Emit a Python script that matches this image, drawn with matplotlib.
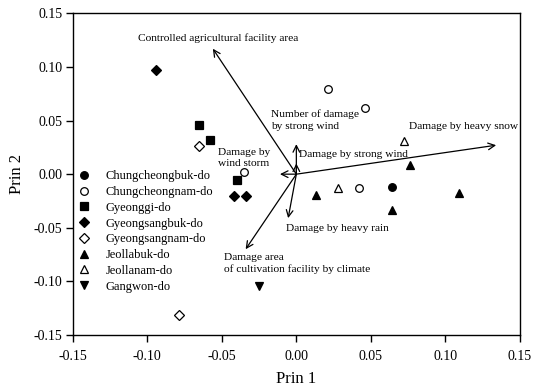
import numpy as np
from matplotlib import pyplot as plt

plt.rcParams['font.family'] = ['Liberation Serif', 'DejaVu Serif']

# province scores (Prin 1, Prin 2)
provinces = ['Chungcheongbuk-do', 'Chungcheongnam-do', 'Gyeonggi-do', 'Gyeongsangbuk-do',
             'Gyeongsangnam-do', 'Jeollabuk-do', 'Jeollanam-do', 'Gangwon-do']
prin1 = [
    [0.064],
    [-0.035, 0.021, 0.046, 0.042],
    [-0.065, -0.058, -0.040],
    [-0.094, -0.042, -0.034],
    [-0.065, -0.079],
    [0.076, 0.013, 0.064, 0.109],
    [0.072, 0.028],
    [-0.025],
]
prin2 = [
    [-0.012],
    [0.002, 0.079, 0.062, -0.013],
    [0.046, 0.032, -0.005],
    [0.097, -0.020, -0.020],
    [0.026, -0.131],
    [0.009, -0.019, -0.033, -0.018],
    [0.031, -0.013],
    [-0.104],
]
markers = ['o', 'o', 's', 'D', 'D', '^', '^', 'v']
filled = [True, False, True, True, False, True, False, True]

# variable loadings (arrow tips) and their labels
var_labels = ['Controlled agricultural facility area', 'Number of damage\nby strong wind',
              'Damage by strong wind', 'Damage by heavy snow', 'Damage by\nwind storm',
              'Damage by heavy rain', 'Damage area\nof cultivation facility by climate']
var_x = [-0.056, 0.0, 0.0, 0.134, -0.011, -0.0055, -0.034]
var_y = [0.117, 0.028, 0.010, 0.027, 0.0, -0.041, -0.070]
lab_x = [-0.106, -0.017, 0.0017, 0.0753, -0.0526, -0.0072, -0.0485]
lab_y = [0.127, 0.0504, 0.0187, 0.0444, 0.0152, -0.0504, -0.0832]

fig = plt.figure(figsize=(5.33, 3.92), dpi=100)
ax = fig.add_axes([0.1364, 0.1454, 0.8392, 0.8206])

for i in range(len(provinces)):
    fc = 'black' if filled[i] else 'white'
    ms = 5.5
    if markers[i] == 'D':
        ms = 4.8
    ax.plot(prin1[i], prin2[i], linestyle='none', marker=markers[i], ms=ms,
            mfc=fc, mec='black', mew=0.9, label=provinces[i])

for i in range(len(var_labels)):
    ax.annotate('', xy=(var_x[i], var_y[i]), xytext=(0, 0),
                arrowprops=dict(arrowstyle='->', color='black', lw=0.9,
                                mutation_scale=12, shrinkA=0, shrinkB=0))
    ax.text(lab_x[i], lab_y[i], var_labels[i], fontsize=8.2, ha='left', va='center',
            linespacing=1.3)

ax.set_xlim(-0.15, 0.15)
ax.set_ylim(-0.15, 0.15)
ax.set_xticks(np.arange(-0.15, 0.151, 0.05))
ax.set_yticks(np.arange(-0.15, 0.151, 0.05))
ax.set_xticklabels(['-0.15', '-0.10', '-0.05', '0.00', '0.05', '0.10', '0.15'])
ax.set_yticklabels(['-0.15', '-0.10', '-0.05', '0.00', '0.05', '0.10', '0.15'])
ax.tick_params(direction='out', length=5, width=1, labelsize=10)
ax.tick_params(axis='x', pad=5.8)
ax.tick_params(axis='y', pad=2.5)
for s in ax.spines.values():
    s.set_linewidth(1)

ax.set_xlabel('Prin 1', fontsize=12, labelpad=6)
ax.set_ylabel('Prin 2', fontsize=12, labelpad=6)

ax.legend(loc='upper left', bbox_to_anchor=(-0.012, 0.539), frameon=False, fontsize=9,
          labelspacing=0.3, handletextpad=1.16, handlelength=1.2, borderaxespad=0.3)

fig.savefig('out.png', dpi=100)
